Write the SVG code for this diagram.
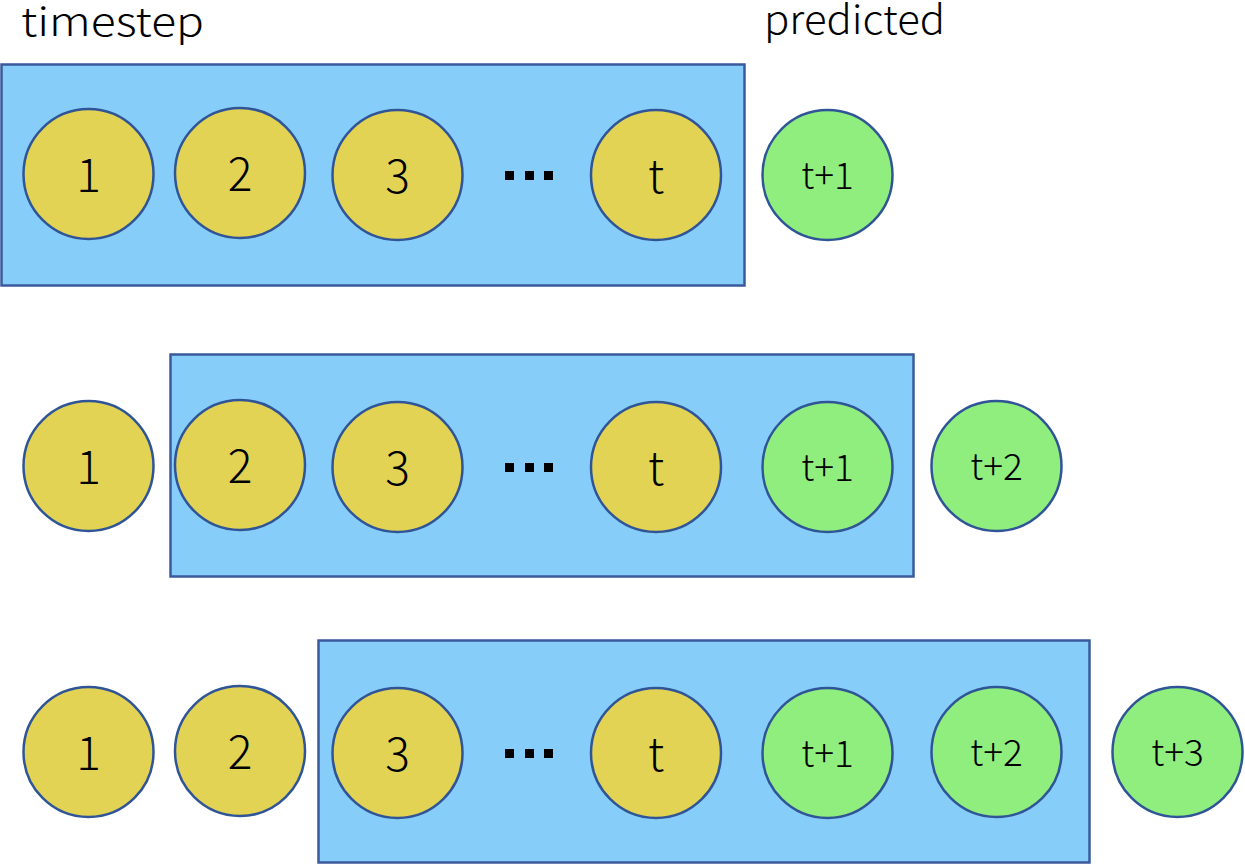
<svg xmlns="http://www.w3.org/2000/svg" width="1245" height="865" viewBox="0 0 1245 865">
<style>
.win{fill:#87CDF9;stroke:#3A5A9C;stroke-width:2.5}
.y{fill:#E3D355;stroke:#2F5597;stroke-width:2.5}
.g{fill:#90EE7E;stroke:#2F5597;stroke-width:2.5}
text{font-family:"Noto Sans CJK SC","Noto Sans",sans-serif;font-weight:300;fill:#000}
.n{font-size:46px;text-anchor:middle}
.s{font-size:37px;text-anchor:middle}
.h{font-size:40px}
</style>
<rect width="1245" height="865" fill="#fff"/>
<text class="h" x="21" y="36" textLength="183" lengthAdjust="spacingAndGlyphs">timestep</text>
<text class="h" x="764" y="34" textLength="181" lengthAdjust="spacingAndGlyphs">predicted</text>
<g id="windows">
<rect id="win1" class="win" x="1.5" y="64.5" width="743" height="221"/>
<rect id="win2" class="win" x="170.5" y="354.5" width="743" height="222"/>
<rect id="win3" class="win" x="318.5" y="640.5" width="771" height="222"/>
</g>
<g id="connectors"></g>
<g id="row1">
<g id="r1n1"><circle class="y" cx="88.5" cy="174" r="65"/><text class="n" x="88.5" y="192">1</text></g>
<g id="r1n2"><circle class="y" cx="240" cy="173" r="65"/><text class="n" x="240" y="191">2</text></g>
<g id="r1n3"><circle class="y" cx="397.5" cy="175" r="65"/><text class="n" x="397.5" y="193">3</text></g>
<g id="r1dots"><rect x="505" y="171" width="9" height="9"/><rect x="525" y="171" width="9" height="9"/><rect x="544" y="171" width="9" height="9"/></g>
<g id="r1nt"><circle class="y" cx="656" cy="175" r="65"/><text class="n" x="656" y="193">t</text></g>
<g id="r1p1"><circle class="g" cx="827.5" cy="175" r="65"/><text class="s" x="827.5" y="189">t+1</text></g>
</g>
<g id="row2">
<g id="r2n1"><circle class="y" cx="88.5" cy="466" r="65"/><text class="n" x="88.5" y="484">1</text></g>
<g id="r2n2"><circle class="y" cx="240" cy="465" r="65"/><text class="n" x="240" y="483">2</text></g>
<g id="r2n3"><circle class="y" cx="397.5" cy="467" r="65"/><text class="n" x="397.5" y="485">3</text></g>
<g id="r2dots"><rect x="505" y="463" width="9" height="9"/><rect x="525" y="463" width="9" height="9"/><rect x="544" y="463" width="9" height="9"/></g>
<g id="r2nt"><circle class="y" cx="656" cy="467" r="65"/><text class="n" x="656" y="485">t</text></g>
<g id="r2p1"><circle class="g" cx="827.5" cy="467" r="65"/><text class="s" x="827.5" y="481">t+1</text></g>
<g id="r2p2"><circle class="g" cx="996.5" cy="466" r="65"/><text class="s" x="996.5" y="480">t+2</text></g>
</g>
<g id="row3">
<g id="r3n1"><circle class="y" cx="88.5" cy="752" r="65"/><text class="n" x="88.5" y="770">1</text></g>
<g id="r3n2"><circle class="y" cx="240" cy="751" r="65"/><text class="n" x="240" y="769">2</text></g>
<g id="r3n3"><circle class="y" cx="397.5" cy="753" r="65"/><text class="n" x="397.5" y="771">3</text></g>
<g id="r3dots"><rect x="505" y="749" width="9" height="9"/><rect x="525" y="749" width="9" height="9"/><rect x="544" y="749" width="9" height="9"/></g>
<g id="r3nt"><circle class="y" cx="656" cy="753" r="65"/><text class="n" x="656" y="771">t</text></g>
<g id="r3p1"><circle class="g" cx="827.5" cy="753" r="65"/><text class="s" x="827.5" y="767">t+1</text></g>
<g id="r3p2"><circle class="g" cx="996.5" cy="752" r="65"/><text class="s" x="996.5" y="766">t+2</text></g>
<g id="r3p3"><circle class="g" cx="1177.5" cy="752" r="65"/><text class="s" x="1177.5" y="766">t+3</text></g>
</g>
</svg>
